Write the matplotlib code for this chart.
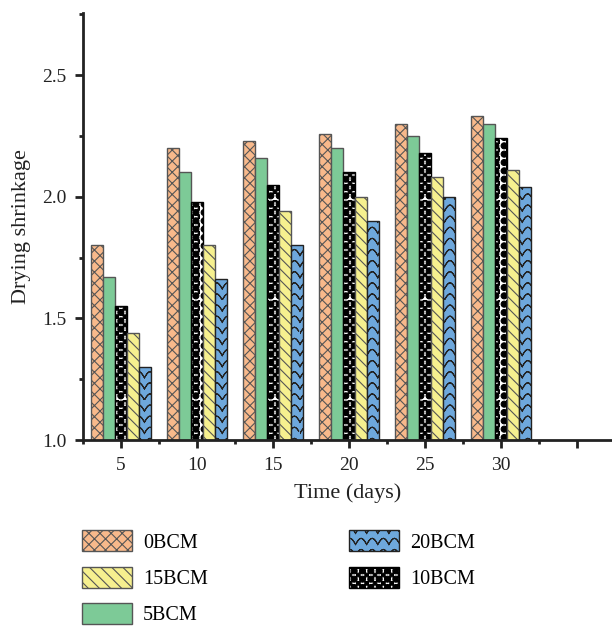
import numpy as np
import matplotlib
matplotlib.use('Agg')
import matplotlib.pyplot as plt
import matplotlib.hatch as mhatch
from matplotlib.path import Path
from matplotlib.patches import Patch
from matplotlib.ticker import MultipleLocator

# data
days = [5, 10, 15, 20, 25, 30]
bcm0 = [1.80, 2.20, 2.23, 2.26, 2.30, 2.33]
bcm5 = [1.67, 2.10, 2.16, 2.20, 2.25, 2.30]
bcm10 = [1.55, 1.98, 2.05, 2.10, 2.18, 2.24]
bcm15 = [1.44, 1.80, 1.94, 2.00, 2.08, 2.11]
bcm20 = [1.30, 1.66, 1.80, 1.90, 2.00, 2.04]


# scalloped line hatch ('~') for the 20BCM bars
class WaveHatch(mhatch.HatchPatternBase):
    def __init__(self, hatch, density):
        self.num_lines = int(hatch.count('~') * density * 0.75)
        self.npts = 8 * max(self.num_lines, 1) + 1
        self.num_vertices = self.num_lines * self.npts * 2

    def set_vertices_and_codes(self, vertices, codes):
        n = self.num_lines
        xs = np.linspace(0, 1, self.npts)
        amp = 0.55 / n
        for i in range(n):
            ys = i / n + amp * np.abs(np.sin(np.pi * n * xs))
            # forward then back, so the filled area is zero and only the stroke shows
            px = np.concatenate([xs, xs[::-1]])
            py = np.concatenate([ys, ys[::-1]])
            s = slice(i * 2 * self.npts, (i + 1) * 2 * self.npts)
            vertices[s, 0] = px
            vertices[s, 1] = py
            codes[s] = Path.LINETO
            codes[i * 2 * self.npts] = Path.MOVETO


# filled balls on a checker ('@') for the 10BCM bars
class BallHatch(mhatch.HatchPatternBase):
    def __init__(self, hatch, density):
        self.n = int(hatch.count('@') * density * 2)
        self.circle = Path.unit_circle()
        self.nc = len(self.circle.vertices)
        self.num_vertices = (self.nc + 5) * self.n * self.n

    def set_vertices_and_codes(self, vertices, codes):
        n = self.n
        r = 0.36 / n
        h = 0.22 / n
        sq = np.array([[-h, -h], [h, -h], [h, h], [-h, h], [-h, -h]])
        sq_codes = [Path.MOVETO, Path.LINETO, Path.LINETO, Path.LINETO, Path.CLOSEPOLY]
        k = 0
        for i in range(n):
            for j in range(n):
                cx, cy = (i + 0.5) / n, (j + 0.5) / n
                vertices[k:k + self.nc] = self.circle.vertices * r + [cx, cy]
                codes[k:k + self.nc] = self.circle.codes
                k += self.nc
                vertices[k:k + 5] = sq + [cx + 0.5 / n, cy + 0.5 / n]
                codes[k:k + 5] = sq_codes
                k += 5


mhatch._hatch_types.append(WaveHatch)
mhatch._hatch_types.append(BallHatch)
mhatch._validate_hatch_pattern = lambda h: None

plt.rcParams['font.family'] = ['Liberation Serif', 'DejaVu Serif']
plt.rcParams['hatch.linewidth'] = 0.8

fig = plt.figure(figsize=(6.12, 6.26), dpi=100)
ax = fig.add_axes([0.1356, 0.2971, 0.8644, 0.682])

edge = '#555555'
c0, c5, c15, c20 = '#F8B98B', '#7DCA97', '#F6F08F', '#6EA8DC'
w = 0.8
x = np.array(days, dtype=float)

ax.bar(x - 2 * w, bcm0, w, color=c0, edgecolor=edge, hatch='xxx', linewidth=1)
ax.bar(x - w, bcm5, w, color=c5, edgecolor=edge, linewidth=1)
ax.bar(x, bcm10, w, color='white', edgecolor='black', hatch='@', linewidth=1)
ax.bar(x + w, bcm15, w, color=c15, edgecolor=edge, hatch='\\\\\\', linewidth=1)
ax.bar(x + 2 * w, bcm20, w, color=c20, edgecolor='#222222', hatch='~~', linewidth=1)

ax.set_xlim(2.5, 37.3)
ax.set_ylim(1.0, 2.755)
ax.set_xticks([5, 10, 15, 20, 25, 30, 35])
ax.set_xticklabels(['5', '10', '15', '20', '25', '30', ''])
ax.xaxis.set_minor_locator(MultipleLocator(2.5))
ax.set_yticks([1.0, 1.5, 2.0, 2.5])
ax.yaxis.set_minor_locator(MultipleLocator(0.25))

for side in ['top', 'right']:
    ax.spines[side].set_visible(False)
for side in ['left', 'bottom']:
    ax.spines[side].set_linewidth(2)
    ax.spines[side].set_color('#222222')
ax.tick_params(which='major', length=6, width=2, color='#222222', labelsize=14,
               labelcolor='#222222', pad=6)
ax.tick_params(which='minor', length=3, width=2, color='#222222')

ax.set_xlabel('Time (days)', fontsize=16, color='#222222', labelpad=7)
ax.set_ylabel('Drying shrinkage', fontsize=16, color='#222222', labelpad=8)

handles = [
    Patch(facecolor=c0, edgecolor=edge, hatch='xxx', label='0BCM'),
    Patch(facecolor=c15, edgecolor=edge, hatch='\\\\\\', label='15BCM'),
    Patch(facecolor=c5, edgecolor=edge, label='5BCM'),
    Patch(facecolor=c20, edgecolor='#222222', hatch='~~', label='20BCM'),
    Patch(facecolor='white', edgecolor='black', hatch='@', label='10BCM'),
]
fig.legend(handles=handles, loc='upper left', bbox_to_anchor=(0.134, 0.153),
           ncol=2, frameon=False, fontsize=14.5, handlelength=2.49, handleheight=1.24,
           columnspacing=7.0, labelspacing=0.7, handletextpad=0.55,
           borderaxespad=0, borderpad=0)

fig.savefig('out.png', dpi=100)
